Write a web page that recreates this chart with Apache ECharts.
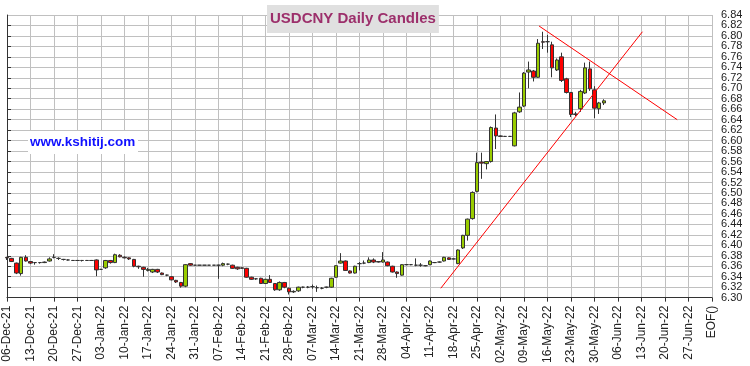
<!DOCTYPE html>
<html>
<head>
<meta charset="utf-8">
<script src="https://cdn.jsdelivr.net/npm/echarts@6/dist/echarts.min.js"></script>
<style>html,body{margin:0;padding:0;background:#fff}#c{width:750px;height:366px}</style>
</head>
<body>
<div id="c"></div>
<script>
const tickLabels = ['06-Dec-21','13-Dec-21','20-Dec-21','27-Dec-21','03-Jan-22','10-Jan-22','17-Jan-22','24-Jan-22','31-Jan-22','07-Feb-22','14-Feb-22','21-Feb-22','28-Feb-22','07-Mar-22','14-Mar-22','21-Mar-22','28-Mar-22','04-Apr-22','11-Apr-22','18-Apr-22','25-Apr-22','02-May-22','09-May-22','16-May-22','23-May-22','30-May-22','06-Jun-22','13-Jun-22','20-Jun-22','27-Jun-22','EOF()'];
const daysPerTick = 5;
const priceMin = 6.30, priceMax = 6.84, priceStep = 0.02;
const edgePriceLabels = [6.30, 6.84];

const opens = [6.377,6.375,6.366,6.346,6.377, 6.369,6.367,6.367,6.367,6.370, 6.377,6.375,6.373,6.372,6.371, 6.371,6.371,6.371,6.371,6.372,
 6.354,6.357,6.371,6.367,6.381, 6.377,6.376,6.373,6.360,6.358, 6.352,6.349,6.354,6.347,6.343, 6.340,6.333,6.329,6.322,6.365,
 6.362,6.362,6.362,6.362,6.362, 6.362,6.362,6.364,6.362,6.358, 6.357,6.356,6.339,6.336,6.337, 6.327,6.335,6.327,6.315,6.329,
 6.318,6.311,6.313,6.320,6.320, 6.321,6.319,6.318,6.320,6.320, 6.339,6.366,6.370,6.351,6.347, 6.365,6.366,6.367,6.372,6.369,
 6.368,6.368,6.360,6.349,6.343, 6.363,6.363,6.362,6.362,6.361, 6.363,6.367,6.368,6.370,6.376, 6.374,6.365,6.395,6.419,6.451,
 6.503,6.559,6.556,6.560,6.624, 6.609,6.608,6.608,6.590,6.655, 6.666,6.731,6.733,6.721,6.789, 6.789,6.783,6.735,6.760,6.718,
 6.692,6.651,6.661,6.691,6.737, 6.697,6.661,6.672];
const closes = [6.376,6.369,6.347,6.377,6.370, 6.366,6.367,6.367,6.368,6.374, 6.377,6.375,6.373,6.372,6.371, 6.371,6.371,6.371,6.371,6.353,
 6.354,6.371,6.367,6.382,6.378, 6.376,6.374,6.360,6.359,6.354, 6.354,6.354,6.349,6.344,6.343, 6.334,6.330,6.322,6.363,6.362,
 6.362,6.362,6.362,6.362,6.362, 6.362,6.365,6.364,6.356,6.355, 6.356,6.339,6.335,6.336,6.327, 6.335,6.329,6.315,6.329,6.320,
 6.311,6.312,6.320,6.320,6.320, 6.321,6.319,6.318,6.320,6.337, 6.361,6.370,6.352,6.347,6.360, 6.365,6.366,6.372,6.368,6.368,
 6.372,6.361,6.349,6.346,6.363, 6.363,6.363,6.362,6.362,6.361, 6.370,6.367,6.368,6.377,6.373, 6.374,6.391,6.419,6.450,6.501,
 6.558,6.557,6.560,6.625,6.609, 6.608,6.608,6.608,6.653,6.664, 6.729,6.735,6.721,6.786,6.788, 6.789,6.739,6.754,6.715,6.692,
 6.650,6.650,6.694,6.739,6.699, 6.662,6.672,6.676];
const lows = [6.372,6.368,6.345,6.342,6.369, 6.364,6.363,6.365,6.366,6.369, 6.375,6.372,6.371,6.371,6.370, 6.370,6.369,6.370,6.370,6.341,
 6.353,6.355,6.365,6.366,6.377, 6.375,6.372,6.358,6.355,6.340, 6.350,6.347,6.347,6.343,6.341, 6.333,6.328,6.319,6.320,6.361,
 6.362,6.362,6.362,6.362,6.362, 6.336,6.360,6.362,6.355,6.353, 6.355,6.338,6.334,6.334,6.326, 6.326,6.328,6.313,6.313,6.318,
 6.306,6.309,6.311,6.318,6.318, 6.317,6.311,6.316,6.318,6.319, 6.338,6.365,6.351,6.346,6.346, 6.352,6.364,6.366,6.366,6.367,
 6.367,6.360,6.348,6.338,6.342, 6.362,6.362,6.360,6.359,6.360, 6.362,6.366,6.367,6.369,6.372, 6.373,6.364,6.393,6.409,6.449,
 6.501,6.527,6.545,6.558,6.584, 6.607,6.607,6.607,6.589,6.653, 6.664,6.700,6.713,6.720,6.775, 6.768,6.721,6.733,6.712,6.690,
 6.645,6.647,6.655,6.689,6.695, 6.643,6.651,6.668];
const highs = [6.378,6.376,6.367,6.378,6.381, 6.370,6.368,6.368,6.369,6.377, 6.383,6.377,6.374,6.373,6.372, 6.372,6.372,6.372,6.372,6.373,
 6.355,6.372,6.372,6.384,6.383, 6.379,6.377,6.374,6.361,6.359, 6.357,6.355,6.355,6.348,6.344, 6.341,6.334,6.330,6.364,6.366,
 6.362,6.362,6.362,6.362,6.362, 6.363,6.367,6.365,6.363,6.359, 6.358,6.357,6.340,6.337,6.338, 6.336,6.343,6.328,6.331,6.330,
 6.319,6.314,6.321,6.321,6.322, 6.325,6.323,6.320,6.321,6.338, 6.362,6.385,6.371,6.352,6.361, 6.368,6.371,6.377,6.375,6.370,
 6.387,6.369,6.361,6.350,6.364, 6.364,6.364,6.375,6.366,6.362, 6.371,6.368,6.369,6.378,6.377, 6.375,6.392,6.420,6.451,6.503,
 6.577,6.577,6.561,6.627,6.650, 6.610,6.609,6.609,6.655,6.692, 6.731,6.751,6.735,6.794,6.808, 6.802,6.789,6.757,6.768,6.720,
 6.693,6.655,6.697,6.749,6.751, 6.704,6.674,6.679];

// trend lines: [dayIndex, price] endpoints
const supportLine = [[92.3, 6.318], [135.2, 6.808]];
const resistanceLine = [[113.2, 6.819], [142.6, 6.640]];

const totalSlots = (tickLabels.length - 1) * daysPerTick + 1;
const categories = [];
for (let i = 0; i < totalSlots; i++) categories.push(i % daysPerTick === 0 ? tickLabels[i / daysPerTick] : '');
const candleData = opens.map((o, i) => [o, closes[i], lows[i], highs[i]]);

const labelStyle = {fontSize: 11, color: '#222', fontFamily: 'Arial', margin: 9, formatter: v => (+v).toFixed(2)};

const chart = echarts.init(document.getElementById('c'), null, {renderer: 'canvas'});
chart.setOption({
  animation: false,
  backgroundColor: '#fff',
  title: {
    text: 'USDCNY Daily Candles', left: 267, top: 5,
    backgroundColor: '#e0e0e0', padding: [6, 3, 6, 3],
    textStyle: {color: '#9c2f6b', fontSize: 15, fontWeight: 'bold', fontFamily: 'Arial', lineHeight: 16}
  },
  graphic: [
    {type: 'rect', left: 28, top: 131, z: 100, shape: {width: 110, height: 23}, style: {fill: '#fff'}},
    {type: 'text', left: 30, top: 135, z: 101, style: {text: 'www.kshitij.com', font: 'bold 13.5px Arial', fill: '#1010ff'}}
  ],
  grid: {left: 7, right: 38, top: 15, bottom: 67},
  xAxis: [{
    type: 'category', data: categories, boundaryGap: false,
    axisLine: {lineStyle: {color: '#333', width: 1}},
    axisTick: {interval: daysPerTick - 1, length: 4, lineStyle: {color: '#333'}},
    axisLabel: {interval: daysPerTick - 1, rotate: 90, fontSize: 12, color: '#222', fontFamily: 'Arial', margin: 8},
    splitLine: {show: true, interval: daysPerTick - 1, lineStyle: {color: '#c0c0c0', width: 1}}
  }, {
    type: 'value', min: 0, max: totalSlots - 1, show: false
  }],
  yAxis: [{
    type: 'value', position: 'right', min: priceMin, max: priceMax, interval: priceStep, scale: true,
    axisLine: {show: true, lineStyle: {color: '#333'}},
    axisTick: {show: true, length: 4, lineStyle: {color: '#333'}},
    axisLabel: Object.assign({showMinLabel: false, showMaxLabel: false}, labelStyle),
    splitLine: {show: true, lineStyle: {color: '#c0c0c0', width: 1}}
  }, {
    type: 'value', position: 'right', min: priceMin, max: priceMax, scale: true,
    axisLine: {show: false}, axisTick: {show: false}, splitLine: {show: false},
    axisLabel: Object.assign({customValues: edgePriceLabels, showMinLabel: true, showMaxLabel: true}, labelStyle)
  }],
  series: [{
    type: 'candlestick', data: candleData, barWidth: 4,
    itemStyle: {color: '#99cc00', color0: '#ff0000', borderColor: '#333', borderColor0: '#333', borderWidth: 1}
  }, {
    type: 'line', xAxisIndex: 1, data: supportLine, showSymbol: false, symbol: 'none',
    lineStyle: {color: '#ff0000', width: 1}, z: 5
  }, {
    type: 'line', xAxisIndex: 1, data: resistanceLine, showSymbol: false, symbol: 'none',
    lineStyle: {color: '#ff0000', width: 1}, z: 5
  }]
});
</script>
</body>
</html>
